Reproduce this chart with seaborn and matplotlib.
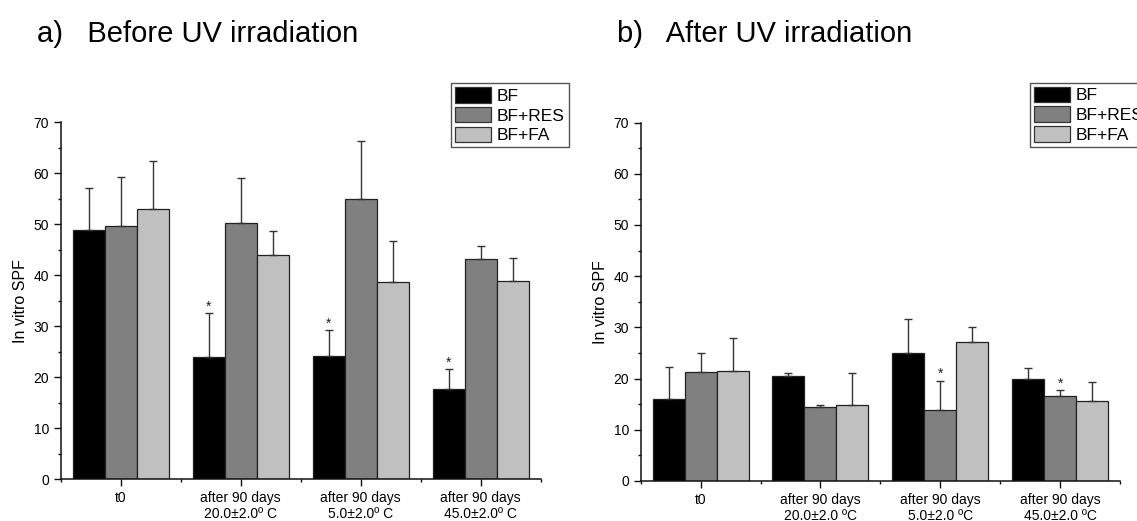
import seaborn as sns
import matplotlib.pyplot as plt
import matplotlib.patches as mpatches
from matplotlib.ticker import MultipleLocator, FixedLocator
import pandas as pd

# Gruppen (x-Achse) und Formulierungen (hue)
groups_a = ['t0', 'after 90 days\n20.0±2.0º C', 'after 90 days\n5.0±2.0º C', 'after 90 days\n45.0±2.0º C']
groups_b = ['t0', 'after 90 days\n20.0±2.0 ºC', 'after 90 days\n5.0±2.0 ºC', 'after 90 days\n45.0±2.0 ºC']
formulations = ['BF', 'BF+RES', 'BF+FA']
colors = ['#000000', '#808080', '#c0c0c0']

# a) vor UV-Bestrahlung: Mittelwerte und SD
before_bf = [48.9, 24.0, 24.2, 17.6]
before_res = [49.6, 50.3, 55.0, 43.2]
before_fa = [53.0, 44.0, 38.6, 38.9]
before_bf_sd = [8.1, 8.5, 5.0, 3.9]
before_res_sd = [9.6, 8.7, 11.3, 2.5]
before_fa_sd = [9.3, 4.6, 8.1, 4.4]

# b) nach UV-Bestrahlung
after_bf = [16.0, 20.6, 25.0, 20.0]
after_res = [21.3, 14.5, 13.9, 16.6]
after_fa = [21.5, 14.9, 27.2, 15.6]
after_bf_sd = [6.3, 0.4, 6.6, 2.0]
after_res_sd = [3.7, 0.3, 5.7, 1.1]
after_fa_sd = [6.4, 6.2, 2.9, 3.8]

# signifikante Unterschiede (*): (Formulierung, Gruppenindex)
stars_before = [('BF', 1), ('BF', 2), ('BF', 3)]
stars_after = [('BF+RES', 2), ('BF+RES', 3)]


def long_table(groups, means, sds):
    rows = []
    for f, m, s in zip(formulations, means, sds):
        for g, v, e in zip(groups, m, s):
            rows.append({'Gruppe': g, 'Formulierung': f, 'SPF': v, 'SD': e})
    return pd.DataFrame(rows)


sns.set_style('ticks')
plt.rcParams['font.family'] = ['Liberation Sans', 'DejaVu Sans']
plt.rcParams['text.color'] = 'black'
plt.rcParams['axes.labelcolor'] = 'black'
plt.rcParams['xtick.color'] = 'black'
plt.rcParams['ytick.color'] = 'black'

fig = plt.figure(figsize=(11.37, 5.21), dpi=100)
ax_a = fig.add_axes([0.0534, 0.0806, 0.4222, 0.685])
ax_b = fig.add_axes([0.5635, 0.0768, 0.4215, 0.688])

panels = [
    (ax_a, long_table(groups_a, [before_bf, before_res, before_fa],
                      [before_bf_sd, before_res_sd, before_fa_sd]), groups_a, stars_before, (0.3967, 0.840)),
    (ax_b, long_table(groups_b, [after_bf, after_res, after_fa],
                      [after_bf_sd, after_res_sd, after_fa_sd]), groups_b, stars_after, (0.9059, 0.841)),
]

for ax, df, groups, stars, leg_pos in panels:
    sns.barplot(data=df, x='Gruppe', y='SPF', hue='Formulierung', order=groups,
                hue_order=formulations, palette=colors, errorbar=None, width=0.8,
                edgecolor='#222222', linewidth=0.9, saturation=1, legend=False, ax=ax)

    # Fehlerbalken nur nach oben
    for f, cont in zip(formulations, ax.containers):
        sub = df[df['Formulierung'] == f].set_index('Gruppe').loc[groups]
        xs = [p.get_x() + p.get_width() / 2 for p in cont.patches]
        ax.errorbar(xs, sub['SPF'].values, yerr=[[0] * len(xs), sub['SD'].values],
                    fmt='none', ecolor='#333333', elinewidth=1.0, capsize=3, capthick=1.0, zorder=1)
        for (sf, gi) in stars:
            if sf == f:
                top = sub['SPF'].values[gi] + sub['SD'].values[gi]
                ax.text(xs[gi], top + 0.5, '*', ha='center', va='baseline', fontsize=10, color='#222222')

    ax.set_ylim(0, 70)
    ax.set_xlim(-0.5, 3.5)
    ax.yaxis.set_major_locator(MultipleLocator(10))
    ax.yaxis.set_minor_locator(MultipleLocator(5))
    ax.xaxis.set_minor_locator(FixedLocator([-0.5, 0.5, 1.5, 2.5, 3.5]))
    ax.tick_params(axis='both', which='major', direction='out', length=5, width=1.0,
                   labelsize=10, pad=3.5, color='#111111')
    ax.tick_params(axis='both', which='minor', direction='out', length=2.5, width=1.0, color='#111111')
    ax.set_xlabel('')
    ax.set_ylabel('In vitro SPF', fontsize=11.5, labelpad=4)
    sns.despine(ax=ax)
    for sp in ['left', 'bottom']:
        ax.spines[sp].set_linewidth(1.1)
        ax.spines[sp].set_color('#111111')

    handles = [mpatches.Patch(facecolor=c, edgecolor='#333333', linewidth=0.9) for c in colors]
    leg = ax.legend(handles, formulations, loc='upper left', bbox_to_anchor=leg_pos,
                    bbox_transform=fig.transFigure, fancybox=False, edgecolor='#555555',
                    framealpha=1, fontsize=12.5, handlelength=2.1, handleheight=1.0,
                    labelspacing=0.17, borderpad=0.22, handletextpad=0.33, borderaxespad=0)
    leg.get_frame().set_linewidth(1.0)

fig.text(37 / 1137, 1 - 41.7 / 521, 'a)   Before UV irradiation', fontsize=21, va='baseline', ha='left')
fig.text(617 / 1137, 1 - 41.7 / 521, 'b)   After UV irradiation', fontsize=21, va='baseline', ha='left')

fig.savefig('out.png', dpi=100)
